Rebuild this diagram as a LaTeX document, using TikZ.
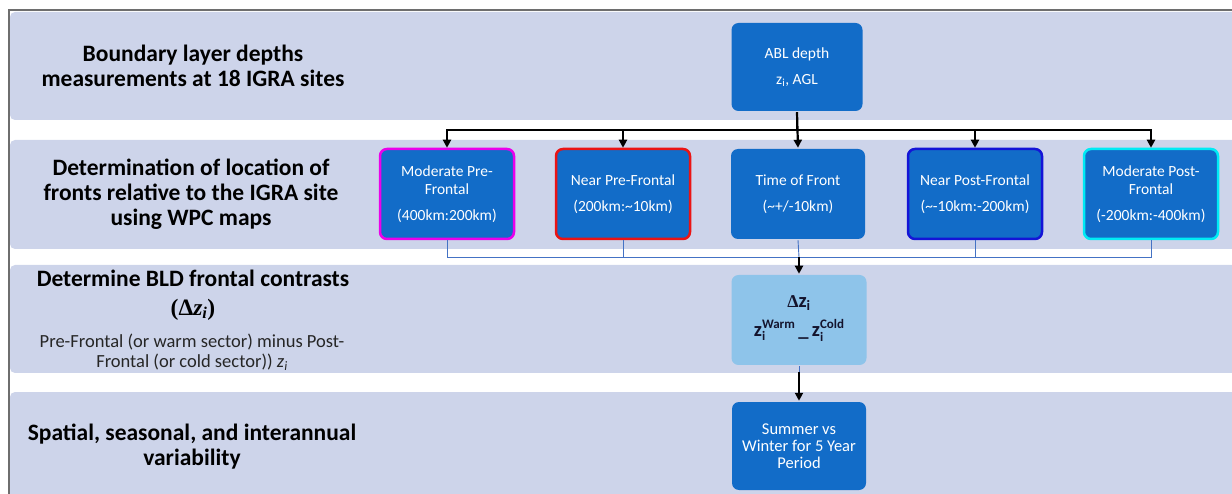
\documentclass[tikz,border=0pt]{standalone}
\usepackage{fontspec}
\setmainfont{Carlito}
\newfontfamily\serifb{Liberation Serif}
\usetikzlibrary{arrows.meta}
\definecolor{bandc}{RGB}{205,212,234}
\definecolor{boxblue}{RGB}{18,108,200}
\definecolor{lightbox}{RGB}{142,196,234}
\definecolor{thinc}{RGB}{68,114,196}
\definecolor{framec}{RGB}{110,110,110}
\definecolor{darktxt}{RGB}{20,20,45}
\newcommand{\zsupsub}[1]{z\raisebox{1.5pt}{\fontsize{13}{11.5}\selectfont\begin{tabular}[c]{@{}l@{}}#1\\i\end{tabular}}}
\begin{document}
\begin{tikzpicture}[x=1pt,y=-1pt,
  bandbox/.style={fill=bandc, rounded corners=5pt},
  bluebox/.style={fill=boxblue, rounded corners=7pt, text=white,
    font=\fontsize{15.5}{26}\selectfont, align=center,
    minimum width=134pt, minimum height=90pt, inner sep=2pt, line width=2.5pt},
  title/.style={font=\bfseries\fontsize{23.5}{25}\selectfont, align=center, text=black},
  note/.style={font=\fontsize{18.5}{20}\selectfont, align=center, text=black!85},
  arr/.style={line width=2.2pt, -{Triangle[length=8pt,width=8pt]}},
  thinline/.style={draw=thinc, line width=0.9pt}]
\useasboundingbox (0,0) rectangle (1232,494);
\clip (0,0) rectangle (1232,494);
% frame
\draw[framec, line width=1.6pt] (9,500) -- (9,10) -- (1240,10);
% bands
\fill[bandbox] (10,12) rectangle (1245,120);
\fill[bandbox] (10,140) rectangle (1245,249);
\fill[bandbox] (10,265) rectangle (1245,373);
\fill[bandbox] (10,392) rectangle (1245,505);
% left titles
\node[title] (t1) at (193,66) {Boundary layer depths\\measurements at 18 IGRA sites};
\node[title] (t2) at (191,194) {Determination of location of\\fronts relative to the IGRA site\\using WPC maps};
\node[title, font=\bfseries\fontsize{23.5}{29}\selectfont] (t3) at (193,295) {Determine BLD frontal contrasts\\{\serifb\bfseries(Δ\textit{z}\textsubscript{\textit{i}})}};
\node[note] (t3n) at (192,352) {Pre-Frontal (or warm sector) minus Post-\\Frontal (or cold sector)) \textit{z}\textsubscript{\textit{i}}};
\node[title] (t4) at (192,447) {Spatial, seasonal, and interannual\\variability};
% boxes
\node[bluebox, minimum width=131pt, minimum height=88pt] (abl) at (797,67) {ABL depth\\z\textsubscript{i}, AGL};
\node[bluebox, draw={rgb,255:red,235;green,0;blue,235}] (mpre) at (447,194) {Moderate Pre-\\[-8pt]Frontal\\(400km:200km)};
\node[bluebox, draw={rgb,255:red,235;green,20;blue,20}] (npre) at (623,194) {Near Pre-Frontal\\(200km:\textasciitilde10km)};
\node[bluebox] (tof) at (798,194) {Time of Front\\(\textasciitilde+/-10km)};
\node[bluebox, draw={rgb,255:red,20;green,20;blue,215}] (npost) at (975,194) {Near Post-Frontal\\(\textasciitilde-10km:-200km)};
\node[bluebox, draw={rgb,255:red,0;green,235;blue,245}] (mpost) at (1151,194) {Moderate Post-\\[-8pt]Frontal\\(-200km:-400km)};
\node[bluebox, fill=lightbox, text=darktxt, font=\bfseries\fontsize{20.5}{29}\selectfont, minimum width=135pt] (dz) at (799,320)
  {{\serifb\bfseries\fontsize{18}{20}\selectfont Δ}z\textsubscript{i}\\\zsupsub{Warm}\,\_\,\zsupsub{Cold}};
\node[bluebox, font=\fontsize{16.5}{17}\selectfont, minimum height=88pt] (sum) at (799,446) {Summer vs\\Winter for 5 Year\\Period};
% top connectors
\coordinate (hub) at (797,130);
\draw[arr] (abl.south) -- (tof.north);
\draw[arr] (abl.south) |- (hub) -| (mpre.north);
\draw[arr] (abl.south) |- (hub) -| (npre.north);
\draw[arr] (abl.south) |- (hub) -| (npost.north);
\draw[arr] (abl.south) |- (hub) -| (mpost.north);
% thin connectors
\coordinate (jn) at (799,257);
\draw[thinline] (mpre.south) |- (jn);
\draw[thinline] (npre.south) |- (jn);
\draw[thinline] (tof.south) -- (jn);
\draw[thinline] (npost.south) |- (jn);
\draw[thinline] (mpost.south) |- (jn);
\draw[arr] (jn) -- (dz.north);
\coordinate (jn2) at (799,372);
\draw[thinline] (dz.south) -- (jn2);
\draw[arr] (jn2) -- (sum.north);
\end{tikzpicture}
\end{document}
